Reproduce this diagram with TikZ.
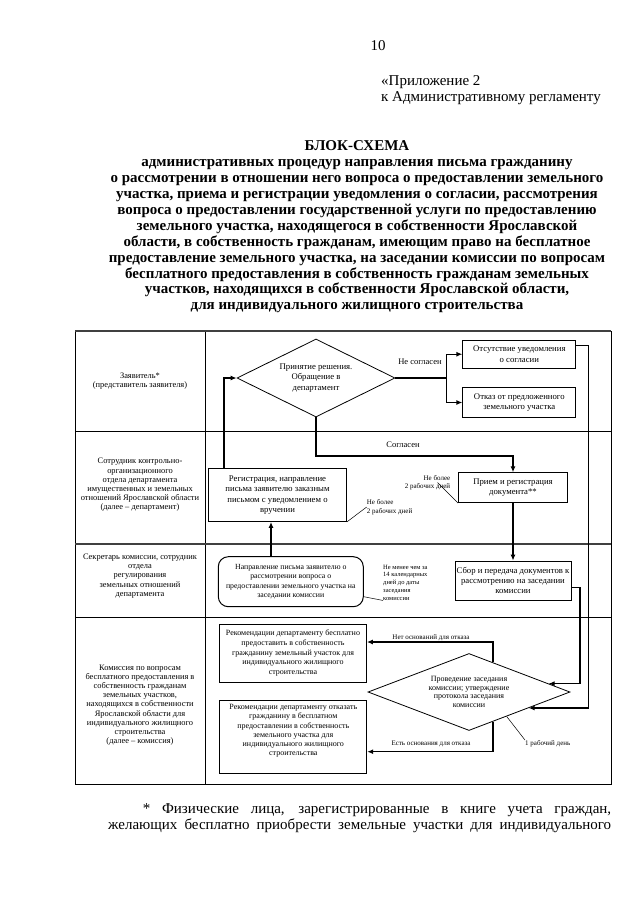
\documentclass[tikz,border=0pt]{standalone}
\usepackage{fontspec}
\setmainfont{Liberation Serif}
\usetikzlibrary{shapes.geometric,arrows.meta,calc}

\begin{document}
\begin{tikzpicture}[x=1pt,y=-1pt,
        role/.style={align=center,inner sep=0pt,font=\fontsize{8.4}{9.2}\selectfont},
        stage/.style={draw,line width=0.8pt,align=center,inner sep=0pt,font=\fontsize{8.7}{10.3}\selectfont},
        choice/.style={stage,diamond},
        flow/.style={line width=1.4pt,-{Latex[length=6pt,width=5pt]}},
        lead/.style={line width=0.5pt},
        term/.style={inner sep=0pt,font=\fontsize{7}{8.5}\selectfont}]
        \useasboundingbox (0,0) rectangle (640,905);
        \node (pagenum) at (378,46) {\fontsize{15}{16}\selectfont 10};
        \node[anchor=west,align=left,inner sep=0pt,font=\fontsize{15}{16.5}\selectfont] (annex) at (381,90)
            {«Приложение 2\\к Административному регламенту};
        \node[align=center,inner sep=0pt,font=\bfseries\fontsize{15}{15.9}\selectfont] (title) at (357,227)
            {БЛОК-СХЕМА\\административных процедур направления письма гражданину\\
            о рассмотрении в отношении него вопроса о предоставлении земельного\\
            участка, приема и регистрации уведомления о согласии, рассмотрения\\
            вопроса о предоставлении государственной услуги по предоставлению\\
            земельного участка, находящегося в собственности Ярославской\\
            области, в собственность гражданам, имеющим право на бесплатное\\
            предоставление земельного участка, на заседании комиссии по вопросам\\
            бесплатного предоставления в собственность гражданам земельных\\
            участков, находящихся в собственности Ярославской области,\\
            для индивидуального жилищного строительства};
        \draw[line width=0.6pt] (75,331) rectangle (611,784);
        \draw[line width=0.6pt] (205,331) -- (205,784);
        \foreach \y in {331,544}
            \draw[line width=1.6pt,black!75] (75,\y) -- (611,\y);
        \foreach \y in {431,617}
            \draw[line width=0.6pt] (75,\y) -- (611,\y);
        \node[role] (applicant) at (140,381) {Заявитель*\\(представитель заявителя)};
        \node[role] (dept) at (140,485) {Сотрудник контрольно-\\организационного\\отдела департамента\\
            имущественных и земельных\\отношений Ярославской области\\(далее -- департамент)};
        \node[role] (secr) at (140,576) {Секретарь комиссии, сотрудник\\отдела\\регулирования\\
            земельных отношений\\департамента};
        \node[role] (comm) at (140,705) {Комиссия по вопросам\\бесплатного предоставления в\\
            собственность гражданам\\земельных участков,\\находящихся в собственности\\
            Ярославской области для\\индивидуального жилищного\\строительства\\(далее -- комиссия)};
        \node[choice,shape aspect=2,minimum width=158pt,minimum height=78pt] (decide) at (316,378)
            {Принятие решения.\\Обращение в\\департамент};
        \node[stage,minimum width=113pt,minimum height=28pt] (nonotice) at (519.3,354.2)
            {Отсутствие уведомления\\о согласии};
        \node[stage,minimum width=113pt,minimum height=30pt] (refuse) at (519.3,402.5)
            {Отказ от предложенного\\земельного участка};
        \node[stage,minimum width=138pt,minimum height=53pt] (reg) at (277.5,495)
            {Регистрация, направление\\письма заявителю заказным\\письмом с уведомлением о\\вручении};
        \node[stage,minimum width=109pt,minimum height=30pt] (recv) at (513,487.7)
            {Прием и регистрация\\документа**};
        \node[stage,rounded corners=10pt,line width=1pt,minimum width=145pt,minimum height=50pt,
            font=\fontsize{7.8}{9.2}\selectfont] (letter) at (290.8,581.7)
            {Направление письма заявителю о\\рассмотрении вопроса о\\
            предоставлении земельного участка на\\заседании комиссии};
        \node[stage,minimum width=116pt,minimum height=39pt] (collect) at (513,580.5)
            {Сбор и передача документов к\\рассмотрению на заседании\\комиссии};
        \node[stage,minimum width=147pt,minimum height=58pt,font=\fontsize{8}{9.7}\selectfont] (recyes) at (293,653)
            {Рекомендации департаменту бесплатно\\предоставить в собственность\\
            гражданину земельный участок для\\индивидуального жилищного\\строительства};
        \node[stage,minimum width=147pt,minimum height=73pt,font=\fontsize{8}{9.3}\selectfont] (recno) at (293.3,736.7)
            {Рекомендации департаменту отказать\\гражданину в бесплатном\\
            предоставлении в собственность\\земельного участка для\\индивидуального жилищного\\
            строительства\\[4pt]{}};
        \node[choice,shape aspect=2.6,minimum width=202pt,minimum height=77pt,
            font=\fontsize{8}{8.6}\selectfont] (meeting) at (469,692)
            {Проведение заседания\\комиссии; утверждение\\протокола заседания\\комиссии};
        \coordinate (regup) at (224,0);
        \coordinate (sendup) at (271,0);
        \coordinate (fork) at (446.7,378);
        \coordinate (agreeln) at (0,456);
        \coordinate (bendA) at (580,0);
        \coordinate (bendB) at (588.3,0);
        \coordinate (notop) at (0,642);
        \coordinate (nobot) at (0,751.7);
        \draw[flow] (reg.north -| regup) |- (decide.west);
        \draw[flow] (letter.north -| sendup) -- (reg.south -| sendup);
        \draw[line width=1.4pt] (decide.east) -- (fork);
        \draw[flow] (fork) |- (nonotice.west);
        \draw[flow] (fork) |- (refuse.west);
        \draw[flow] (decide.south) -- (decide.south |- agreeln) -| (recv.north);
        \draw[flow] (recv.south) -- (collect.north);
        \draw[flow] ($(collect.east)+(0,7)$) -| (meeting.6 -| bendA) -- (meeting.6);
        \draw[flow] ($(nonotice.east)+(0,-8.5)$) -| (meeting.-15 -| bendB) -- (meeting.-15);
        \draw[flow] (meeting.51) -- (meeting.51 |- notop) -- (notop -| recyes.east);
        \draw[flow] (meeting.-51) -- (meeting.-51 |- nobot) -- (nobot -| recno.east);
        \node[term,font=\fontsize{8.5}{10}\selectfont] (disagree) at (420,362) {Не согласен};
        \node[term,font=\fontsize{8.5}{10}\selectfont] (agree) at (403,445) {Согласен};
        \node[term,align=right] (lim1) at (427.5,482.5) {Не более\\2 рабочих дней};
        \node[term,align=left,anchor=west] (lim2) at (366.7,507) {Не более\\2 рабочих дней};
        \node[term,align=left,anchor=west,font=\fontsize{6.5}{7.8}\selectfont] (lim3) at (383,582.5)
            {Не менее чем за\\14 календарных\\дней до даты\\заседания\\комиссии};
        \node[term] (nogrounds) at (431,637.5) {Нет оснований для отказа};
        \node[term] (grounds) at (431,744) {Есть основания для отказа};
        \node[term,anchor=west] (oneday) at (525,743.5) {1 рабочий день};
        \draw[lead] (recv.south west) -- ($(lim1.center)+(10,0)$);
        \draw[lead] (reg.south east) -- (lim2.west);
        \draw[lead] ($(letter.east)+(0,15)$) -- (lim3.south west);
        \draw[lead] (meeting.-33) -- (oneday.north west);
        \node[anchor=base west,inner sep=0pt,font=\fontsize{15}{16}\selectfont] (fn1) at (142.7,813)
            {\makebox[468.3pt][s]{* Физические лица, зарегистрированные в книге учета граждан,}};
        \node[anchor=base west,inner sep=0pt,font=\fontsize{15}{16}\selectfont] (fn2) at (108,829)
            {\makebox[503pt][s]{желающих бесплатно приобрести земельные участки для индивидуального}};
\end{tikzpicture}
\end{document}
